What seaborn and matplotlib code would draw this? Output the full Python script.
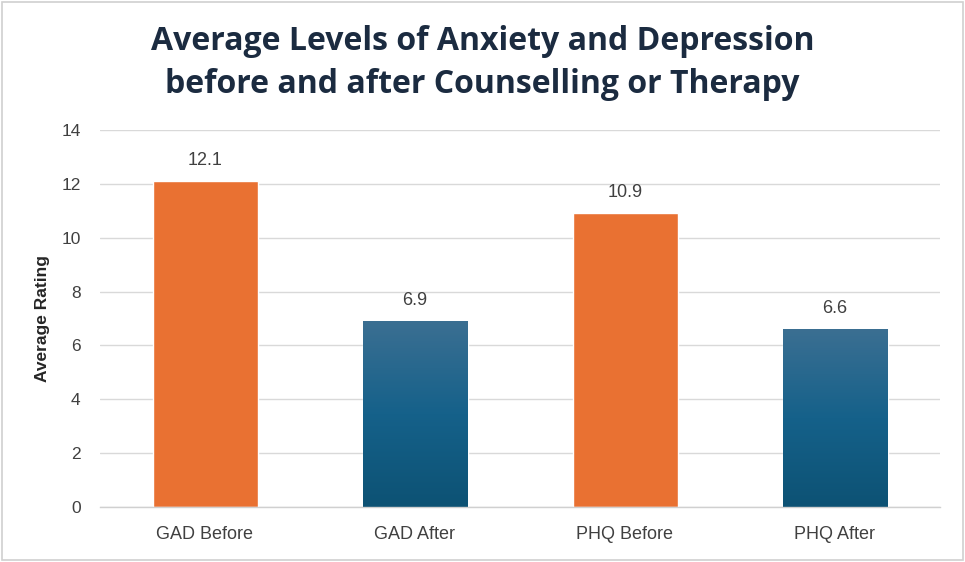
import numpy as np
import pandas as pd
import matplotlib
matplotlib.use("Agg")
import matplotlib.pyplot as plt
from matplotlib.patches import Rectangle
from matplotlib.colors import LinearSegmentedColormap, to_rgb
import seaborn as sns

# Data
categories = ["GAD Before", "GAD After", "PHQ Before", "PHQ After"]
ratings = [12.1, 6.9, 10.9, 6.6]
phase = ["Before", "After", "Before", "After"]

y_ticks = [0, 2, 4, 6, 8, 10, 12, 14]
title = "Average Levels of Anxiety and Depression\nbefore and after Counselling or Therapy"
y_label = "Average Rating"

ORANGE = "#E97132"
BLUE = "#156082"
blue_grad = LinearSegmentedColormap.from_list("bluegrad", ["#0D5274", "#15618A", "#3B6F92"])

sns.set_theme(style="white")
plt.rcParams["font.family"] = ["Liberation Sans", "DejaVu Sans"]

df = pd.DataFrame({"category": categories, "rating": ratings, "phase": phase})

fig = plt.figure(figsize=(9.65, 5.62), dpi=100)
ax = fig.add_axes([100 / 965, 1 - 507 / 562, 840 / 965, 377 / 562])

sns.barplot(data=df, x="category", y="rating", hue="phase",
            palette={"Before": ORANGE, "After": BLUE}, dodge=False,
            width=0.5, legend=False, ax=ax, saturation=1)

ax.set_ylim(0, 14)
ax.set_xlim(-0.5, 3.5)
ax.set_yticks(y_ticks)
ax.set_yticklabels([str(t) for t in y_ticks])
ax.yaxis.grid(True, color="#D9D9D9", linewidth=1.0)
ax.set_axisbelow(True)
for side in ["top", "right", "left"]:
    ax.spines[side].set_visible(False)
ax.spines["bottom"].set_color("#D0D0D0")
ax.spines["bottom"].set_linewidth(1.0)
ax.tick_params(axis="both", length=0, colors="#404040")
ax.tick_params(axis="y", pad=14, labelsize=12.5)
ax.tick_params(axis="x", pad=14, labelsize=13)
ax.set_xlabel("")
ax.set_ylabel(y_label, fontsize=12.5, fontweight="bold", color="#262626", labelpad=8)

# Gradient fill on the "After" bars, clipped to each bar's shape
blue_rgb = to_rgb(BLUE)
for bar in ax.patches:
    h = bar.get_height()
    if h <= 0:
        continue
    x0 = bar.get_x()
    w = bar.get_width()
    if np.allclose(bar.get_facecolor()[:3], blue_rgb, atol=0.02):
        grad = np.linspace(0, 1, 256).reshape(-1, 1)
        im = ax.imshow(grad, cmap=blue_grad, aspect="auto",
                       extent=(x0, x0 + w, 0, h), origin="lower",
                       zorder=bar.get_zorder() + 0.1)
        im.set_clip_path(bar)
    ax.text(x0 + w / 2, h + 0.45, f"{h:.1f}", ha="center", va="bottom",
            fontsize=13, color="#404040")

ax.set_xlim(-0.5, 3.5)
ax.set_ylim(0, 14)

fig.text(0.5, 1 - 63 / 562, title, ha="center", va="center", fontsize=23,
         fontweight="bold", color="#1B2B40", family=["Open Sans", "DejaVu Sans"],
         linespacing=1.38)

# Chart frame
fig.patches.append(Rectangle((2 / 965, 2 / 562), 1 - 4 / 965, 1 - 4 / 562,
                             transform=fig.transFigure, fill=False,
                             edgecolor="#D0D0D0", linewidth=1.2))

fig.savefig("out.png", dpi=100)
